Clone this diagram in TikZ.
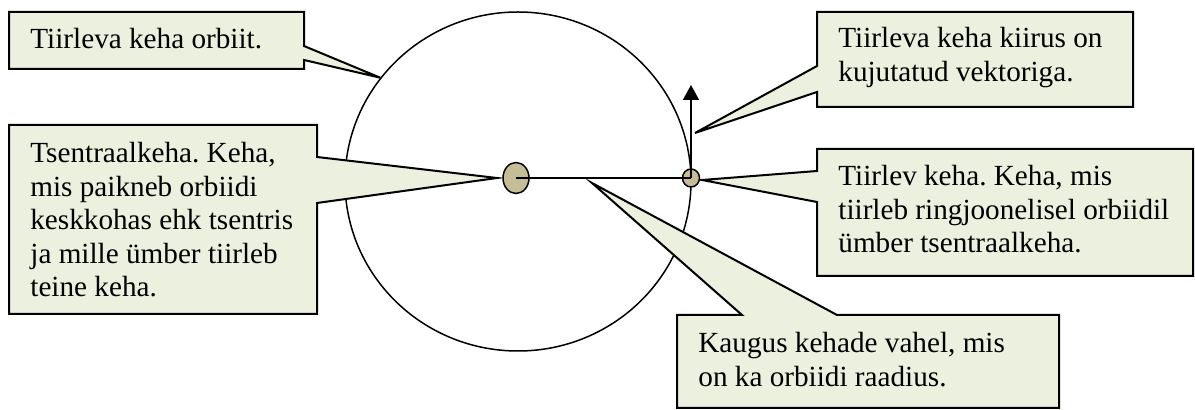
\documentclass[tikz,border=0pt]{standalone}
\usepackage{fontspec}
\setmainfont{Liberation Serif}
\usepackage{xcolor}
\usetikzlibrary{shapes.geometric,arrows.meta}

\definecolor{calloutfill}{HTML}{EBF1DE}
\definecolor{bodyfill}{HTML}{C4BD97}
\frenchspacing

\begin{document}
\begin{tikzpicture}[
  x=0.5pt, y=-0.5pt,
  callout/.style={draw, fill=calloutfill, line width=1pt, line join=miter},
  calltext/.style={anchor=north west, inner sep=0pt, align=left, font=\fontsize{14.6}{16.75}\selectfont},
  body/.style={ellipse, draw, fill=bodyfill, line width=0.75pt, inner sep=0pt},
  thin/.style={line width=0.75pt},
]
\useasboundingbox (0,0) rectangle (1195,410);
% orbit and bodies
\node[ellipse, draw, thin, inner sep=0pt, minimum width=173pt, minimum height=169.5pt] (orbit) at (518,181.5) {};
\coordinate (vtip) at (695,133);
\coordinate (rtip) at (592,183);
\coordinate (stip) at (497,178);
\coordinate (ptip) at (702,180);
% callouts
\draw[callout] (9,12) -- (304,12) -- (304,46) -- (orbit.143) -- (304,60) -- (304,69) -- (9,69) -- cycle;
\draw[callout] (817,12) -- (1133,12) -- (1133,107) -- (817,107) -- (817,92) -- (vtip) -- (817,66) -- cycle;
\draw[callout] (9,125) -- (317,125) -- (317,157) -- (stip) -- (317,203) -- (317,314) -- (9,314) -- cycle;
\draw[callout] (817,149) -- (1193,149) -- (1193,276) -- (817,276) -- (817,202) -- (ptip) -- (817,171) -- cycle;
\draw[callout] (677,315) -- (742,315) -- (rtip) -- (837,315) -- (1059,315) -- (1059,408) -- (677,408) -- cycle;
% texts, top at first baseline minus ascender
\node[calltext] (orbittext) at (30,28) {Tiirleva keha orbiit.};
\node[calltext] (speedtext) at (838,27) {Tiirleva keha kiirus on\\kujutatud vektoriga.};
\node[calltext] (suntext) at (30,142) {Tsentraalkeha. Keha,\\mis paikneb orbiidi\\keskkohas ehk tsentris\\ja mille ümber tiirleb\\teine keha.};
\node[calltext] (planettext) at (838,165) {Tiirlev keha. Keha, mis\\tiirleb ringjoonelisel orbiidil\\ümber tsentraalkeha.};
\node[calltext] (radiustext) at (698,332) {Kaugus kehade vahel, mis\\on ka orbiidi raadius.};
\node[body, minimum width=13pt, minimum height=15.5pt] (sun) at (516,178) {};
\node[body, minimum width=8.5pt, minimum height=9pt] (planet) at (691,178) {};
\draw[thin] (sun.center) -- (planet.center);
\draw[thin, -{Triangle[width=8pt, length=7.5pt]}] (planet.center) -- (691,85);
\end{tikzpicture}
\end{document}
